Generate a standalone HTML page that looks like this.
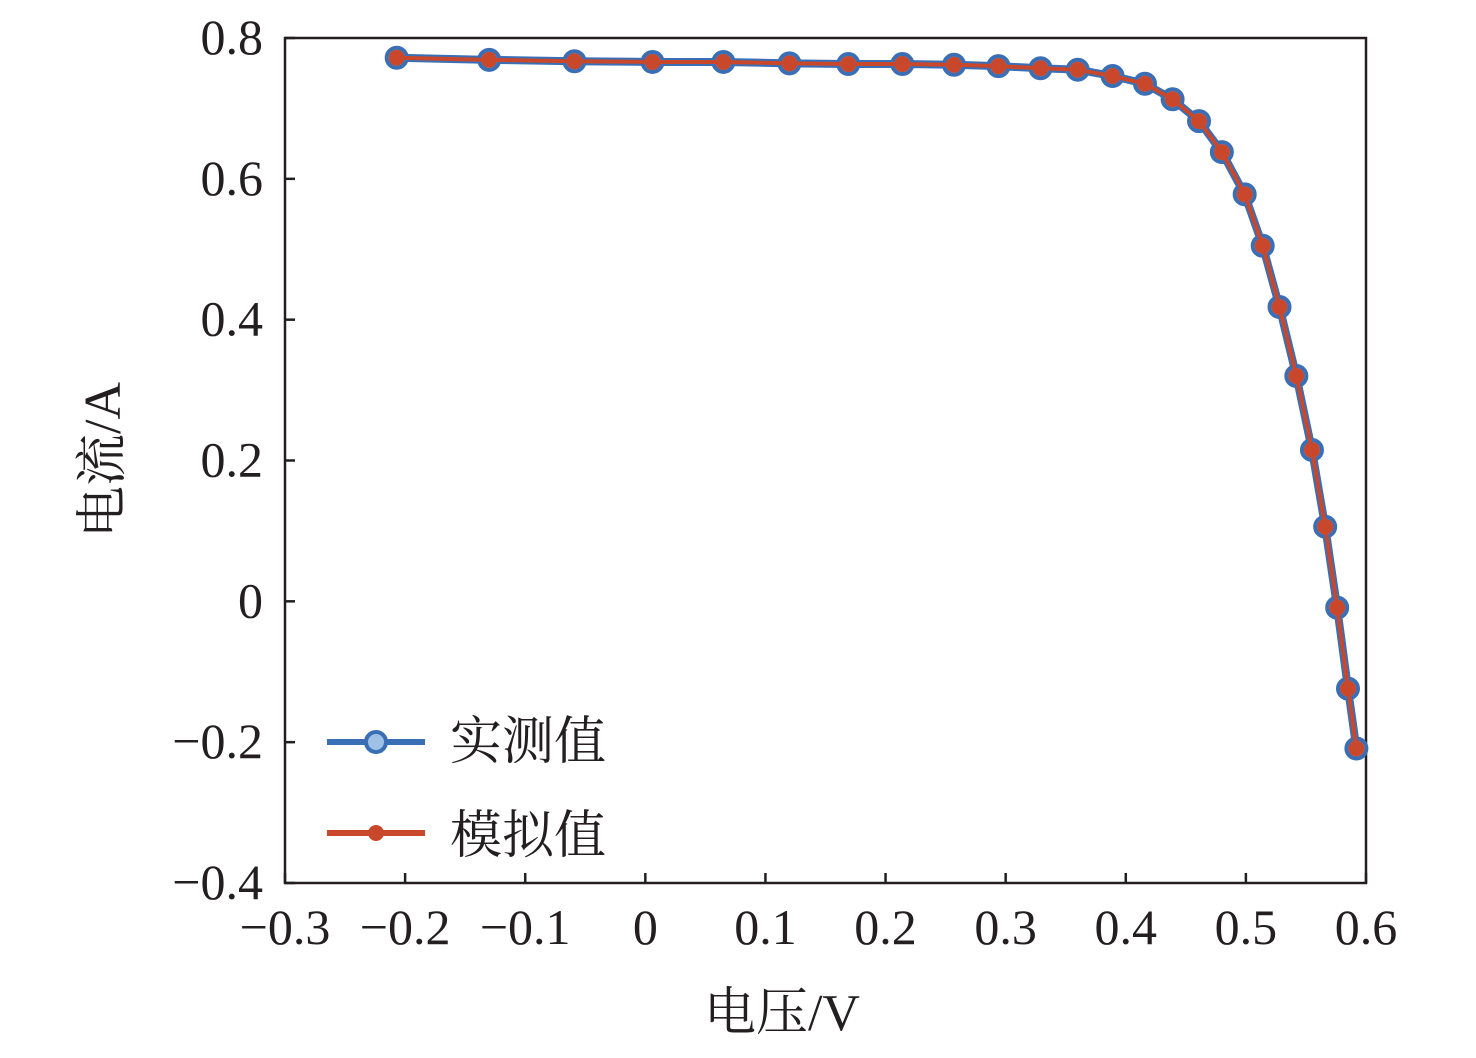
<!DOCTYPE html>
<html><head><meta charset="utf-8"><style>
body{margin:0;background:#fff}
svg text{font-family:"Liberation Serif","Noto Serif CJK SC",serif;fill:#231f20}
</style></head><body>
<svg width="1476" height="1053" id="c">
<rect x="285" y="38" width="1081" height="845" fill="none" stroke="#231f20" stroke-width="2.5"/>
<g id="ticks"></g>
<g id="series"></g>
<g>
<line x1="327" y1="742" x2="425" y2="742" stroke="#3a6fb5" stroke-width="6"/>
<circle cx="376" cy="742" r="10" fill="#9fc1e6" stroke="#3a6fb5" stroke-width="4"/>
<text x="450" y="759" font-size="52">实测值</text>
<line x1="327" y1="833" x2="425" y2="833" stroke="#c9482c" stroke-width="6"/>
<circle cx="376" cy="833" r="8" fill="#c9482c"/>
<text x="450" y="853" font-size="52">模拟值</text>
</g>
<text x="782" y="1030" font-size="52" text-anchor="middle">电压/V</text>
<text transform="translate(120,460) rotate(-90)" font-size="52" text-anchor="middle">电流/A</text>
</svg>
<script>
const voltage=[-0.207,-0.130,-0.059,0.006,0.065,0.120,0.169,0.214,0.257,0.294,0.329,0.360,0.389,0.416,0.439,0.461,0.480,0.499,0.514,0.528,0.542,0.555,0.566,0.576,0.585,0.592];
const measured=[0.772,0.769,0.767,0.766,0.766,0.764,0.763,0.763,0.762,0.760,0.757,0.755,0.746,0.735,0.713,0.682,0.638,0.578,0.505,0.418,0.320,0.215,0.106,-0.009,-0.124,-0.209];
const simulated=[0.772,0.769,0.767,0.766,0.766,0.764,0.763,0.763,0.762,0.760,0.757,0.755,0.746,0.735,0.713,0.682,0.638,0.578,0.505,0.418,0.320,0.215,0.106,-0.009,-0.124,-0.209];
const xTicks=[-0.3,-0.2,-0.1,0,0.1,0.2,0.3,0.4,0.5,0.6];
const xTickLabels=["−0.3","−0.2","−0.1","0","0.1","0.2","0.3","0.4","0.5","0.6"];
const yTicks=[-0.4,-0.2,0,0.2,0.4,0.6,0.8];
const yTickLabels=["−0.4","−0.2","0","0.2","0.4","0.6","0.8"];
const NS="http://www.w3.org/2000/svg";
const X=v=>285+(v+0.3)/0.9*1081;
const Y=v=>883-(v+0.4)/1.2*845;
function mk(tag,attrs,parent){const e=document.createElementNS(NS,tag);for(const k in attrs)e.setAttribute(k,attrs[k]);parent.appendChild(e);return e;}
const tg=document.getElementById('ticks');
xTicks.forEach((t,i)=>{
 const l=mk('line',{x1:X(t),x2:X(t),y1:883,y2:873,stroke:'#231f20','stroke-width':2.5},tg);
 
 
 const tx=mk('text',{x:X(t),y:944,'font-size':50,'text-anchor':'middle'},tg);tx.textContent=xTickLabels[i];
 
 
});
yTicks.forEach((t,i)=>{
 const l=mk('line',{x1:285,x2:295,y1:Y(t),y2:Y(t),stroke:'#231f20','stroke-width':2.5},tg);
 
 
 const tx=mk('text',{x:263,y:Y(t)+16,'font-size':50,'text-anchor':'end'},tg);tx.textContent=yTickLabels[i];
 
 
});
const sg=document.getElementById('series');
const pm=voltage.map((v,i)=>X(v)+','+Y(measured[i])).join(' ');
const ps=voltage.map((v,i)=>X(v)+','+Y(simulated[i])).join(' ');
const lm=mk('polyline',{points:pm,fill:'none',stroke:'#3a6fb5','stroke-width':8},sg);


voltage.forEach((v,i)=>{const c=mk('circle',{cx:X(v),cy:Y(measured[i]),r:10,fill:'#9fc1e6',stroke:'#3a6fb5','stroke-width':4},sg);
 
 });
const ls=mk('polyline',{points:ps,fill:'none',stroke:'#c9482c','stroke-width':4},sg);


voltage.forEach((v,i)=>{const c=mk('circle',{cx:X(v),cy:Y(simulated[i]),r:8,fill:'#c9482c'},sg);
 
 });
</script>
</body></html>
